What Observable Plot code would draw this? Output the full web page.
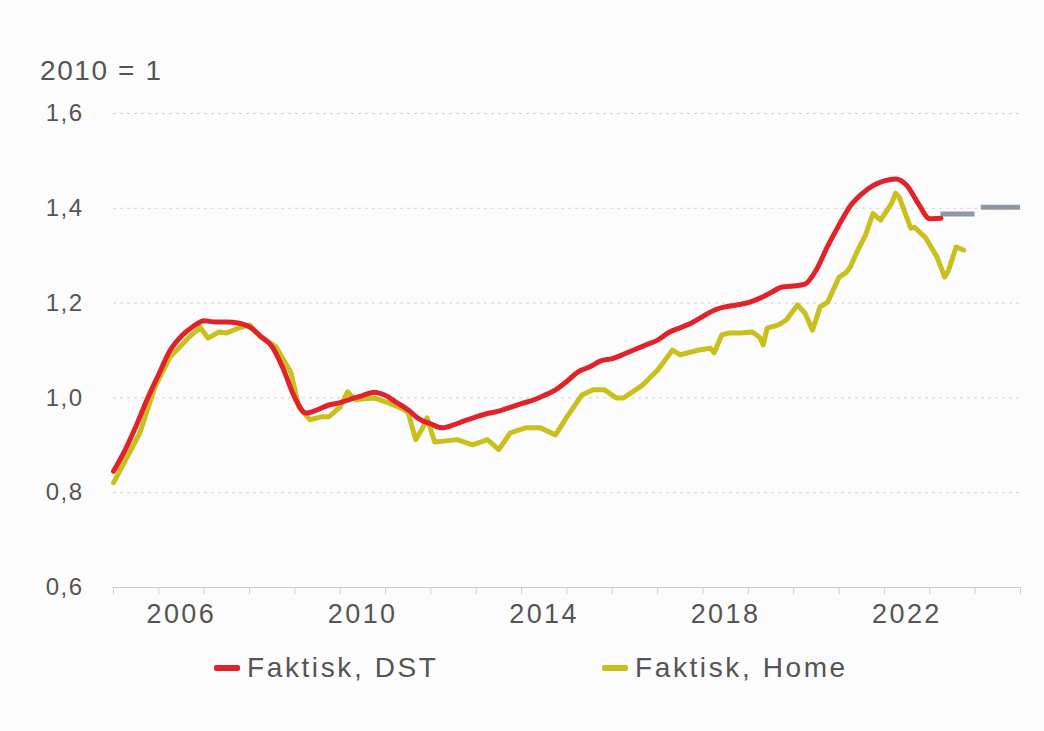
<!DOCTYPE html>
<html>
<head>
<meta charset="utf-8">
<script src="https://cdn.jsdelivr.net/npm/d3@7"></script>
<script src="https://cdn.jsdelivr.net/npm/@observablehq/plot@0.6"></script>
<style>
  html, body { margin: 0; padding: 0; background: #fcfcfc; }
  #wrap { position: relative; width: 1044px; height: 731px; font-family: "Liberation Sans", Arial, sans-serif; color: #555; }
  #title { height: 90px; position: relative; }
  #title span { position: absolute; left: 40px; top: 57px; font-size: 28px; letter-spacing: 1.6px; line-height: 1; }
  #chart svg text { letter-spacing: 1.5px; }
  #chart svg g.xlab text { letter-spacing: 2.4px; }
  #legend { position: relative; height: 99px; }
  .item { position: absolute; top: 20px; font-size: 28px; letter-spacing: 2.6px; line-height: 32px; display: flex; align-items: center; }
  .sw { display: inline-block; width: 26px; height: 6px; margin-right: 7px; border-radius: 2px; letter-spacing: 0; }
</style>
</head>
<body>
<div id="wrap">
  <div id="title"><span>2010 = 1</span></div>
  <div id="chart"></div>
  <div id="legend"></div>
</div>
<script>
// ---- Data ----
const dstDates = ["2005-01","2005-04","2005-07","2005-10","2006-01","2006-04","2006-07","2006-10",
  "2007-01","2007-04","2007-07","2007-10","2008-01","2008-04","2008-07","2008-10",
  "2009-01","2009-04","2009-07","2009-10","2010-01","2010-04","2010-07","2010-10",
  "2011-01","2011-04","2011-07","2011-10","2012-01","2012-04","2012-07","2012-10",
  "2013-01","2013-04","2013-07","2013-10","2014-01","2014-04","2014-07","2014-10",
  "2015-01","2015-04","2015-07","2015-10","2016-01","2016-04","2016-07","2016-10",
  "2017-01","2017-04","2017-07","2017-10","2018-01","2018-04","2018-07","2018-10",
  "2019-01","2019-04","2019-07","2019-10","2020-01","2020-04","2020-07","2020-10",
  "2021-01","2021-04","2021-07","2021-10","2022-01","2022-04","2022-07","2022-10",
  "2023-01","2023-04"];
const dstValues = [0.845,0.888,0.94,0.998,1.05,1.10,1.13,1.15,
  1.163,1.16,1.16,1.158,1.15,1.13,1.108,1.06,
  1.0,0.968,0.975,0.985,0.99,0.998,1.005,1.012,
  1.005,0.99,0.975,0.955,0.945,0.937,0.943,0.952,
  0.96,0.967,0.972,0.98,0.988,0.995,1.005,1.017,
  1.035,1.055,1.065,1.078,1.083,1.092,1.102,1.112,
  1.122,1.138,1.148,1.158,1.172,1.185,1.192,1.196,
  1.201,1.21,1.222,1.234,1.236,1.24,1.27,1.32,
  1.365,1.405,1.43,1.448,1.458,1.462,1.448,1.41,
  1.378,1.379];

const homeDates = ["2005-01","2005-08","2005-12","2006-04","2006-09","2006-12","2007-02","2007-05","2007-07","2007-10",
  "2008-01","2008-04","2008-08","2008-12","2009-02","2009-05","2009-08","2009-10","2010-01","2010-03",
  "2010-05","2010-10","2011-02","2011-05","2011-07","2011-09","2011-11","2011-12","2012-02","2012-08",
  "2012-12","2013-04","2013-07","2013-10","2014-02","2014-06","2014-10","2015-01","2015-05","2015-08",
  "2015-11","2016-02","2016-04","2016-09","2017-01","2017-05","2017-07","2017-12","2018-03","2018-04",
  "2018-06","2018-08","2018-11","2019-02","2019-04","2019-05","2019-06","2019-09","2019-11","2020-02",
  "2020-04","2020-06","2020-08","2020-10","2021-01","2021-03","2021-04","2021-06","2021-08","2021-10",
  "2021-12","2022-03","2022-04","2022-05","2022-08","2022-09","2022-12","2023-03","2023-05","2023-06",
  "2023-08","2023-10"];
const homeValues = [0.821,0.926,1.023,1.086,1.128,1.149,1.126,1.139,1.137,1.147,
  1.154,1.128,1.108,1.053,0.981,0.954,0.96,0.96,0.981,1.013,
  0.996,1.0,0.989,0.979,0.97,0.912,0.939,0.958,0.907,0.912,
  0.901,0.912,0.891,0.926,0.937,0.937,0.922,0.96,1.006,1.017,
  1.017,1.0,1.0,1.027,1.059,1.101,1.091,1.101,1.105,1.095,
  1.133,1.137,1.137,1.139,1.128,1.112,1.147,1.154,1.164,1.196,
  1.179,1.143,1.192,1.202,1.255,1.265,1.276,1.312,1.343,1.389,
  1.375,1.411,1.432,1.423,1.358,1.36,1.337,1.297,1.255,1.269,
  1.318,1.312];

const forecastStart = ["2023-04-01","2024-02-20"];
const forecastEnd = ["2024-01-01","2025-01-01"];
const forecastValues = [1.388,1.402];

const yTicks = [0.6,0.8,1.0,1.2,1.4,1.6];
const gridTicks = [0.8,1.0,1.2,1.4,1.6];
const xLabelYears = [2006,2010,2014,2018,2022];
const seriesNames = ["Faktisk, DST","Faktisk, Home"];
const seriesColors = ["#e0232a","#c9bf1d"];
const forecastColor = "#8d98a4";

// ---- Build tables ----
const parse = s => new Date(s.length === 7 ? s + "-01T00:00:00Z" : s + "T00:00:00Z");
const dst = dstDates.map((d,i) => ({date: parse(d), value: dstValues[i]}));
const home = homeDates.map((d,i) => ({date: parse(d), value: homeValues[i]}));
const forecast = forecastStart.map((d,i) => ({x1: parse(d), x2: parse(forecastEnd[i]), y: forecastValues[i]}));
const xDomain = [new Date(Date.UTC(2005,0,1)), new Date(Date.UTC(2025,0,1))];
const yearTicks = d3.utcYears(xDomain[0], new Date(Date.UTC(2025,0,2)));
const labelTicks = xLabelYears.map(y => new Date(Date.UTC(y,6,1)));

const chart = Plot.plot({
  width: 1044,
  height: 542,
  marginTop: 23,
  marginLeft: 113,
  marginRight: 24,
  marginBottom: 45,
  style: {fontFamily: '"Liberation Sans", Arial, sans-serif', fontSize: "24px", color: "#555", background: "transparent", overflow: "visible"},
  x: {type: "utc", domain: xDomain, label: null},
  y: {domain: [0.6, 1.6], label: null},
  marks: [
    Plot.ruleY(gridTicks, {stroke: "#d2d2d2", strokeDasharray: "3,4", strokeWidth: 1}),
    Plot.ruleY([0.6], {stroke: "#cdcdcd", strokeWidth: 1.2}),
    Plot.axisX({ticks: yearTicks, tickSize: 7, tickFormat: () => "", stroke: "#cdcdcd", label: null}),
    Plot.axisX({ticks: labelTicks, tickSize: 0, tickPadding: 16, tickFormat: d => String(d.getUTCFullYear()), fontSize: 27, label: null, className: "xlab"}),
    Plot.axisY({ticks: yTicks, tickSize: 0, tickPadding: 30, tickFormat: d => d.toFixed(1).replace(".", ","), fontSize: 24, label: null}),
    Plot.ruleY(forecast, {x1: "x1", x2: "x2", y: "y", stroke: forecastColor, strokeWidth: 5}),
    Plot.lineY(home, {x: "date", y: "value", stroke: seriesColors[1], strokeWidth: 5, curve: "linear", strokeLinejoin: "round"}),
    Plot.lineY(dst, {x: "date", y: "value", stroke: seriesColors[0], strokeWidth: 5, curve: "monotone-x", strokeLinejoin: "round"})
  ]
});
document.getElementById("chart").appendChild(chart);
// tag the year-label axis group for letter-spacing
chart.querySelectorAll("g[aria-label='x-axis tick label']").forEach(g => g.classList.add("xlab"));

// ---- Legend ----
const legend = document.getElementById("legend");
const legendLeft = [214, 602];
seriesNames.forEach((name, i) => {
  const item = document.createElement("div");
  item.className = "item";
  item.style.left = legendLeft[i] + "px";
  const sw = document.createElement("span");
  sw.className = "sw";
  sw.style.background = seriesColors[i];
  item.appendChild(sw);
  item.appendChild(document.createTextNode(name));
  legend.appendChild(item);
});
</script>
</body>
</html>
